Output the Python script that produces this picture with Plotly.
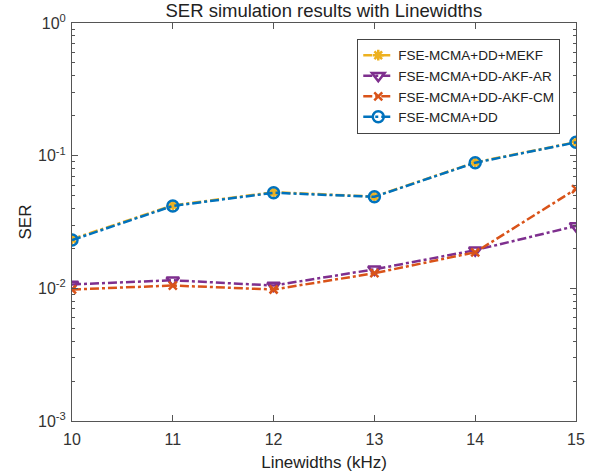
import plotly.graph_objects as go

linewidths = [10, 11, 12, 13, 14, 15]
ser_mekf = [0.0235, 0.0422, 0.0530, 0.0492, 0.0890, 0.1265]
ser_akf_ar = [0.0107, 0.0115, 0.0105, 0.0139, 0.0194, 0.0295]
ser_akf_cm = [0.0098, 0.0105, 0.0098, 0.0130, 0.0187, 0.0560]
ser_dd = [0.0231, 0.0418, 0.0525, 0.0490, 0.0885, 0.1260]

names = ["FSE-MCMA+DD+MEKF", "FSE-MCMA+DD-AKF-AR", "FSE-MCMA+DD-AKF-CM", "FSE-MCMA+DD"]
colors = ["#EDB120", "#7E2F8E", "#D95319", "#0072BD"]
symbols = ["asterisk-open", "triangle-down-open", "x-thin-open", "circle-open"]
sizes = [9, 11, 8, 11]
series = [ser_mekf, ser_akf_ar, ser_akf_cm, ser_dd]

fig = go.Figure()
for n, c, s, sz, y in zip(names, colors, symbols, sizes, series):
    fig.add_trace(go.Scatter(
        x=linewidths, y=y, name=n, mode="lines+markers",
        line=dict(color=c, width=2.5, dash="dashdot"),
        marker=dict(symbol=s, size=sz, color=c, line=dict(color=c, width=2.5)),
    ))

major = [1e-3, 1e-2, 1e-1, 1]
minor_vals = [m * 10**e for e in (-3, -2, -1) for m in range(2, 10)]

axis_common = dict(showline=True, linecolor="#555", linewidth=1, mirror="ticks",
                   ticks="inside", tickcolor="#555", showgrid=False, zeroline=False,
                   automargin=False, tickfont=dict(size=16, color="#333"))

fig.update_layout(
    width=592, height=472,
    paper_bgcolor="white", plot_bgcolor="white",
    margin=dict(l=72, r=16, t=23, b=51),
    font=dict(family="Liberation Sans, Arial, sans-serif", color="#222"),
    title=dict(text="SER simulation results with Linewidths", x=0.547, xanchor="center",
               xref="container", yref="container",
               y=0.992, yanchor="top", font=dict(size=18.5)),
    xaxis=dict(range=[10, 15], tickvals=linewidths, ticklen=6, ticklabelstandoff=4,
               title=dict(text="Linewidths (kHz)", font=dict(size=17), standoff=9),
               **axis_common),
    yaxis=dict(type="log", range=[-3, 0], tickvals=major, ticklen=6, ticklabelstandoff=2,
               ticktext=["10<sup>-3</sup>", "10<sup>-2</sup>", "10<sup>-1</sup>", "10<sup>0</sup>"],
               minor=dict(tickvals=minor_vals, ticks="inside", ticklen=3, tickcolor="#555"),
               title=dict(text="SER", font=dict(size=17), standoff=2),
               **axis_common),
    legend=dict(x=0.566, y=0.96, xanchor="left", yanchor="top",
                bgcolor="white", bordercolor="#444", borderwidth=1,
                font=dict(size=13.5), tracegroupgap=0, itemwidth=30),
    showlegend=True,
)

fig.write_html("out.html")
